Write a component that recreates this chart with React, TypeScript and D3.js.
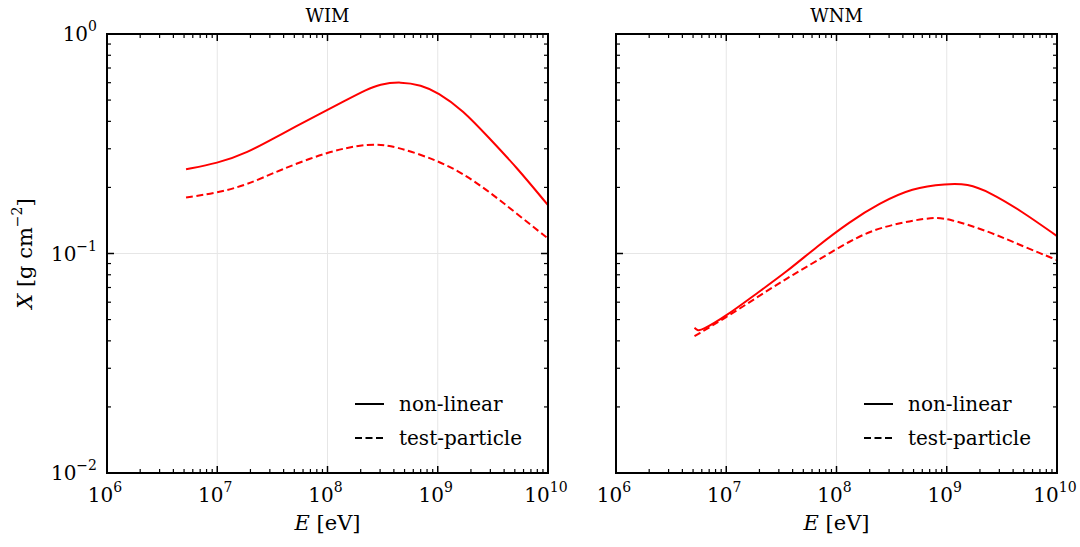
import React from "react";
import * as d3 from "d3";

// panel titles
const panels = ["WIM", "WNM"];

// WIM curves: log10(E / eV) and X in g cm^-2
const wimNonLinearLogE = [6.717, 7.0, 7.266, 7.567, 8.0, 8.171, 8.357, 8.469, 8.665, 8.85, 9.0, 9.226, 9.468, 9.709, 10.0];
const wimNonLinearX = [0.242, 0.2575, 0.286, 0.347, 0.451, 0.5, 0.558, 0.59, 0.607, 0.585, 0.542, 0.451, 0.335, 0.249, 0.166];
const wimTestLogE = [6.717, 7.0, 7.266, 7.567, 8.0, 8.382, 8.623, 9.0, 9.226, 9.468, 9.709, 10.0];
const wimTestX = [0.18, 0.189, 0.205, 0.24, 0.291, 0.319, 0.308, 0.265, 0.232, 0.191, 0.153, 0.117];

// WNM curves
const wnmNonLinearLogE = [6.712, 6.74, 6.773, 7.0, 7.278, 7.55, 7.82, 8.12, 8.385, 8.687, 9.0, 9.187, 9.385, 9.687, 10.0];
const wnmNonLinearX = [0.0459, 0.0446, 0.0445, 0.0519, 0.0659, 0.0827, 0.1074, 0.1396, 0.169, 0.199, 0.208, 0.208, 0.191, 0.155, 0.12];
const wnmTestLogE = [6.712, 7.0, 7.278, 7.55, 7.82, 8.12, 8.385, 8.84, 9.0, 9.385, 9.687, 10.0];
const wnmTestX = [0.042, 0.0512, 0.0631, 0.0771, 0.0925, 0.114, 0.132, 0.1462, 0.1452, 0.126, 0.108, 0.0934];

const xTicks = [1e6, 1e7, 1e8, 1e9, 1e10];
const yTicks = [1e-2, 1e-1, 1e0];
const legendLabels = ["non-linear", "test-particle"];

const W = 1080;
const H = 547;
const top = 34;
const bottom = 473;
const panelX = [107, 616];
const panelW = 441;
const font = "DejaVu Serif";

const exp = (v: number) => Math.round(Math.log10(v));
const minors = (lo: number, hi: number) => {
  const out: number[] = [];
  for (let d = lo; d < hi; d++) for (let k = 2; k <= 9; k++) out.push(k * Math.pow(10, d));
  return out;
};

const Pow = ({ x, y, v, anchor }: { x: number; y: number; v: number; anchor: string }) => (
  <text x={x} y={y} textAnchor={anchor} fontFamily={font} fontSize={20}>
    10
    <tspan dy={-10} fontSize={14}>
      {exp(v) < 0 ? "\u2212" + Math.abs(exp(v)) : exp(v)}
    </tspan>
  </text>
);

const Panel = ({ idx }: { idx: number }) => {
  const x0 = panelX[idx];
  const x = d3.scaleLog().domain([1e6, 1e10]).range([x0, x0 + panelW]);
  const y = d3.scaleLog().domain([1e-2, 1]).range([bottom, top]);
  const line = d3
    .line<[number, number]>()
    .x((d) => x(Math.pow(10, d[0])))
    .y((d) => y(d[1]))
    .curve(d3.curveBasis);
  const series =
    idx === 0
      ? [
          [wimNonLinearLogE, wimNonLinearX],
          [wimTestLogE, wimTestX],
        ]
      : [
          [wnmNonLinearLogE, wnmNonLinearX],
          [wnmTestLogE, wnmTestX],
        ];
  const xMin = minors(6, 10);
  const yMin = minors(-2, 0);
  const legX = idx === 0 ? 355 : 864;
  return (
    <g>
      {/* grid */}
      {xTicks.slice(1, -1).map((t) => (
        <line key={"gx" + t} x1={x(t)} x2={x(t)} y1={top} y2={bottom} stroke="#e6e6e6" strokeWidth={1} />
      ))}
      {yTicks.slice(1, -1).map((t) => (
        <line key={"gy" + t} x1={x0} x2={x0 + panelW} y1={y(t)} y2={y(t)} stroke="#e6e6e6" strokeWidth={1} />
      ))}
      {/* curves */}
      {series.map(([es, xs], i) => (
        <path
          key={i}
          d={line(es.map((e, j) => [e, xs[j]] as [number, number])) || ""}
          fill="none"
          stroke="#ff0000"
          strokeWidth={2}
          strokeDasharray={i === 1 ? "7,3.5" : undefined}
        />
      ))}
      {/* ticks */}
      {xTicks.map((t) => (
        <g key={"xt" + t}>
          <line x1={x(t)} x2={x(t)} y1={bottom} y2={bottom - 7} stroke="#000" strokeWidth={1.5} />
          <line x1={x(t)} x2={x(t)} y1={top} y2={top + 7} stroke="#000" strokeWidth={1.5} />
          <Pow x={x(t) - 2} y={bottom + 29} v={t} anchor="middle" />
        </g>
      ))}
      {xMin.map((t) => (
        <g key={"xm" + t}>
          <line x1={x(t)} x2={x(t)} y1={bottom} y2={bottom - 4} stroke="#000" strokeWidth={1.2} />
          <line x1={x(t)} x2={x(t)} y1={top} y2={top + 4} stroke="#000" strokeWidth={1.2} />
        </g>
      ))}
      {yTicks.map((t) => (
        <g key={"yt" + t}>
          <line x1={x0} x2={x0 + 7} y1={y(t)} y2={y(t)} stroke="#000" strokeWidth={1.5} />
          <line x1={x0 + panelW} x2={x0 + panelW - 7} y1={y(t)} y2={y(t)} stroke="#000" strokeWidth={1.5} />
          {idx === 0 && <Pow x={x0 - 10} y={y(t) + 7} v={t} anchor="end" />}
        </g>
      ))}
      {yMin.map((t) => (
        <g key={"ym" + t}>
          <line x1={x0} x2={x0 + 4} y1={y(t)} y2={y(t)} stroke="#000" strokeWidth={1.2} />
          <line x1={x0 + panelW} x2={x0 + panelW - 4} y1={y(t)} y2={y(t)} stroke="#000" strokeWidth={1.2} />
        </g>
      ))}
      <rect x={x0} y={top} width={panelW} height={bottom - top} fill="none" stroke="#000" strokeWidth={2} />
      {/* title */}
      <text x={x0 + panelW / 2} y={22} textAnchor="middle" fontFamily={font} fontSize={18}>
        {panels[idx]}
      </text>
      {/* x label */}
      <text x={x0 + panelW / 2} y={530} textAnchor="middle" fontFamily={font} fontSize={21}>
        <tspan fontStyle="italic">E</tspan> [eV]
      </text>
      {/* legend */}
      {legendLabels.map((lab, i) => (
        <g key={lab}>
          <line
            x1={legX}
            x2={legX + 29}
            y1={404 + i * 34}
            y2={404 + i * 34}
            stroke="#000"
            strokeWidth={2}
            strokeDasharray={i === 1 ? "7,3.5" : undefined}
          />
          <text x={legX + 44} y={411 + i * 34} fontFamily={font} fontSize={20}>
            {lab}
          </text>
        </g>
      ))}
    </g>
  );
};

const App = () => (
  <svg width={W} height={H} style={{ position: "absolute", left: 0, top: 0, background: "#fff" }}>
    <Panel idx={0} />
    <Panel idx={1} />
    <text
      transform={`translate(32,${(top + bottom) / 2}) rotate(-90)`}
      textAnchor="middle"
      fontFamily={font}
      fontSize={21}
    >
      <tspan fontStyle="italic">X</tspan> [g cm
      <tspan dy={-10} fontSize={14}>
        {"\u2212"}2
      </tspan>
      <tspan dy={10}>]</tspan>
    </text>
  </svg>
);

export default App;
